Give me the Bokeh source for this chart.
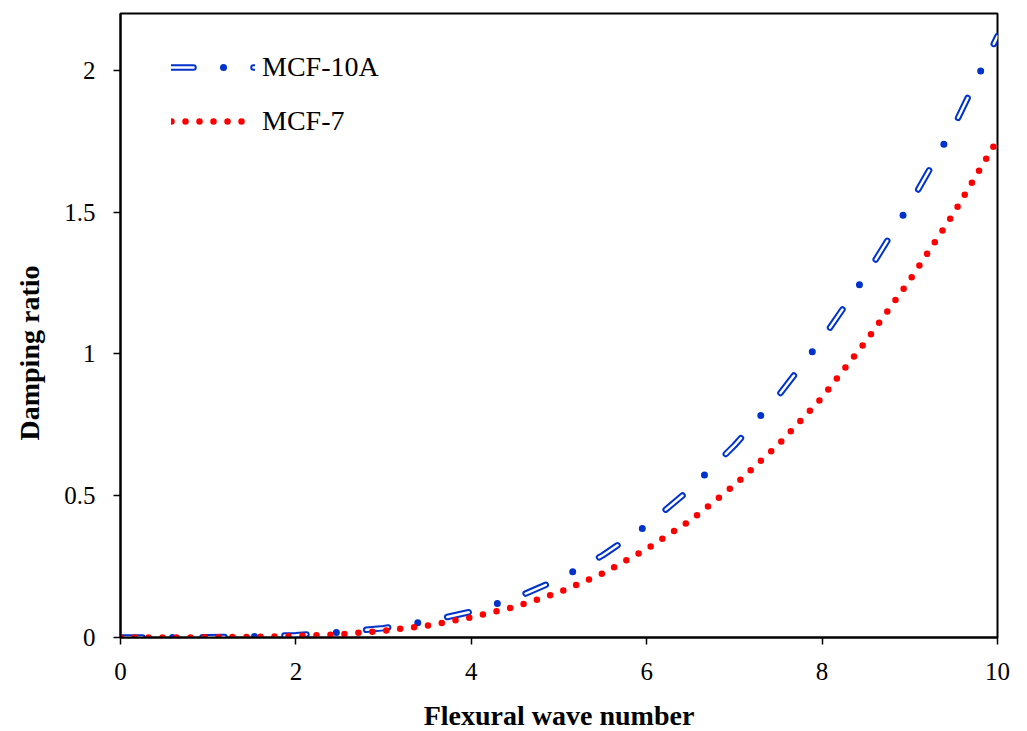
from bokeh.plotting import figure
from bokeh.models import Range1d, Legend, LegendItem, Title
from bokeh.embed import file_html
from bokeh.resources import INLINE

# ---- data ----
wave_number = [0.0, 0.5, 1.0, 1.5, 2.0, 2.5, 3.0, 3.5, 4.0, 4.5, 5.0,
               5.5, 6.0, 6.5, 7.0, 7.5, 8.0, 8.5, 9.0, 9.5, 10.0]
mcf10a = [0.0, 0.0001, 0.0006, 0.003, 0.008, 0.018, 0.033, 0.057, 0.091, 0.139, 0.206,
          0.290, 0.395, 0.524, 0.677, 0.852, 1.052, 1.277, 1.527, 1.800, 2.120]
mcf7 = [0.0, 0.0001, 0.0005, 0.002, 0.005, 0.011, 0.024, 0.042, 0.071, 0.108, 0.159,
        0.226, 0.312, 0.413, 0.537, 0.680, 0.846, 1.045, 1.260, 1.495, 1.755]
series_names = ["MCF-10A", "MCF-7"]
x_ticks = [0, 2, 4, 6, 8, 10]
x_tick_labels = ["0", "2", "4", "6", "8", "10"]
y_ticks = [0, 0.5, 1, 1.5, 2]
y_tick_labels = ["0", "0.5", "1", "1.5", "2"]
x_title = "Flexural wave number"
y_title = "Damping ratio"

FONT = "Liberation Serif"
BLUE = "#0033cc"
RED = "#ff0000"

p = figure(frame_width=877, frame_height=624,
           x_range=Range1d(0, 10), y_range=Range1d(0, 2.2),
           output_backend="svg", toolbar_location=None,
           min_border_left=120, min_border_top=13,
           min_border_right=22, min_border_bottom=86)

p.xgrid.visible = False
p.ygrid.visible = False
p.outline_line_color = "black"
p.outline_line_width = 2
p.background_fill_color = "white"
p.border_fill_color = "white"

for ax in (p.xaxis[0], p.yaxis[0]):
    ax.axis_line_width = 2
    ax.axis_line_color = "black"
    ax.major_tick_line_width = 1.5
    ax.major_tick_in = 0
    ax.major_tick_out = 7
    ax.minor_tick_line_color = None
    ax.major_label_text_font = FONT
    ax.major_label_text_font_size = "25px"
    ax.major_label_text_color = "black"
    ax.axis_label_text_font = FONT
    ax.axis_label_text_font_size = "28px"
    ax.axis_label_text_font_style = "bold"
    ax.axis_label_text_color = "black"

p.xaxis.ticker = x_ticks
p.xaxis.major_label_overrides = {t: l for t, l in zip(x_ticks, x_tick_labels)}
p.yaxis.ticker = y_ticks
p.yaxis.major_label_overrides = {t: l for t, l in zip(y_ticks, y_tick_labels)}
p.xaxis.axis_label = x_title
p.xaxis.major_label_standoff = 18
p.xaxis.axis_label_standoff = 17
p.yaxis.major_label_standoff = 18
# a blank spacer label widens the y-axis panel so the side title sits further out
p.yaxis.axis_label = " "
p.yaxis.axis_label_text_font_size = "1px"
p.yaxis.axis_label_standoff = 3

# y-axis title as a side title, so it can sit a little below the frame centre
p.add_layout(Title(text=y_title, align="left", offset=197,
                   text_font=FONT, text_font_size="28px",
                   text_font_style="bold", text_color="black",
                   standoff=20), "left")

# MCF-10A: outlined long dashes with filled dots in between
b_outer = p.line(wave_number, mcf10a, line_color=BLUE, line_width=6.5,
                 line_dash="22 60", line_cap="round", line_join="round")
b_inner = p.line(wave_number, mcf10a, line_color="white", line_width=2.5,
                 line_dash="22 60", line_cap="round", line_join="round")
b_dots = p.line(wave_number, mcf10a, line_color=BLUE, line_width=7,
                line_dash="0 82", line_dash_offset=30, line_cap="round")

# MCF-7: round dots
r_dots = p.line(wave_number, mcf7, line_color=RED, line_width=6.5,
                line_dash="0 14", line_cap="round")

legend = Legend(items=[LegendItem(label=series_names[0], renderers=[b_outer, b_inner, b_dots]),
                       LegendItem(label=series_names[1], renderers=[r_dots])],
                location=(51, 500), orientation="vertical",
                glyph_width=84, glyph_height=32, label_height=32,
                spacing=22, padding=0, margin=0, label_standoff=7,
                label_text_font=FONT, label_text_font_size="28px",
                label_text_color="black",
                border_line_alpha=0, background_fill_alpha=0)
p.add_layout(legend, "center")

open("out.html", "w").write(file_html(p, INLINE))
